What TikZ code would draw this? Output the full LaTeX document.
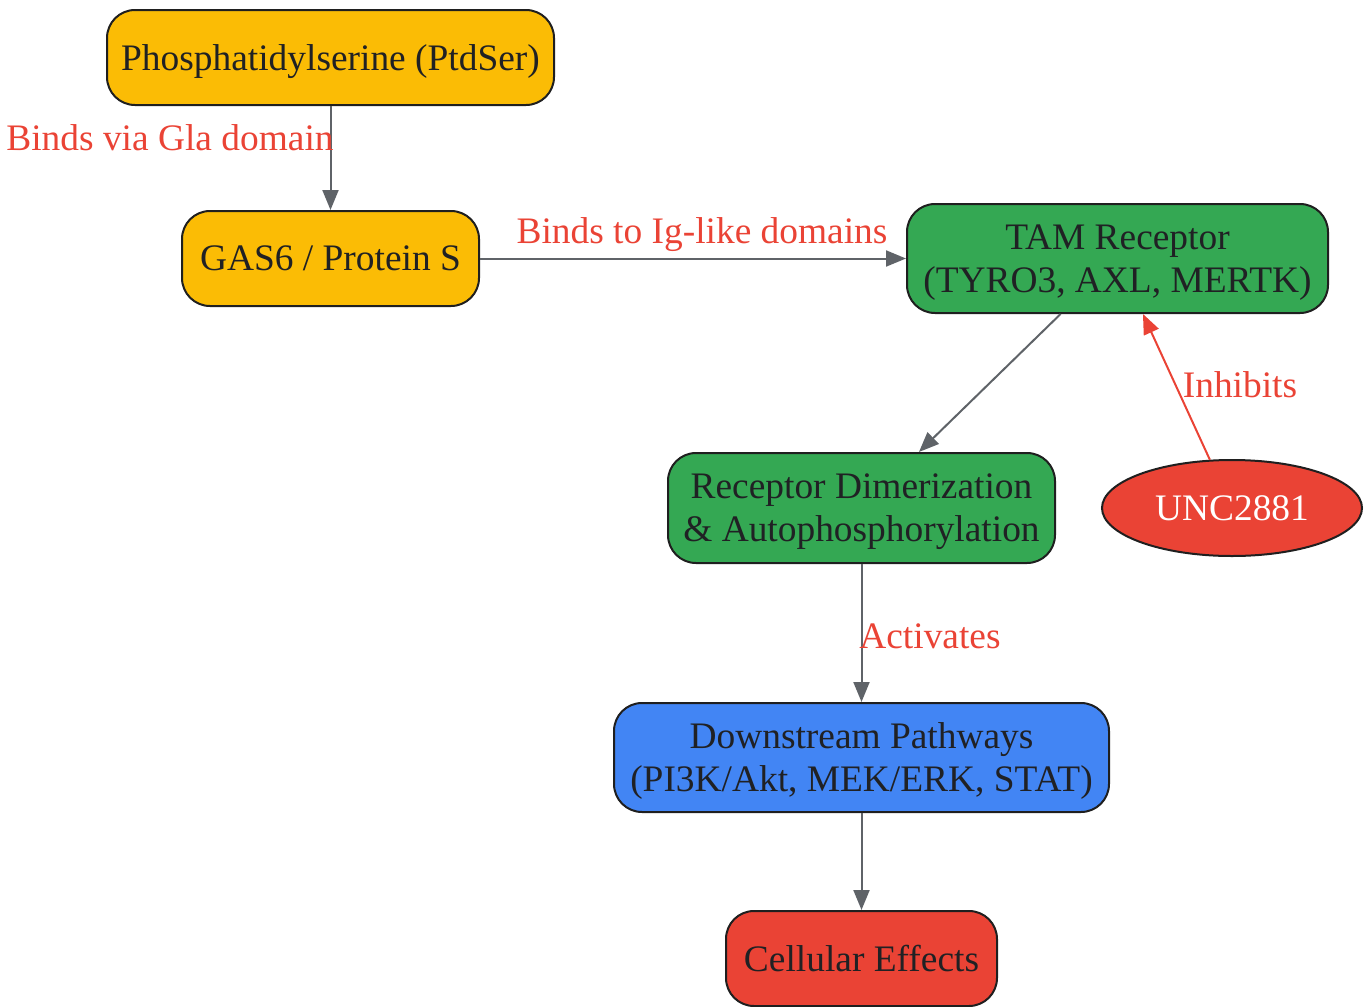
\documentclass[tikz,border=0pt]{standalone}
\usepackage{fontspec}
\setmainfont{Liberation Serif}
\usetikzlibrary{arrows.meta,shapes.geometric}
\definecolor{yel}{HTML}{FBBC05}
\definecolor{grn}{HTML}{34A853}
\definecolor{blu}{HTML}{4285F4}
\definecolor{rd}{HTML}{EA4335}
\definecolor{edge}{HTML}{5F6368}
\definecolor{txt}{HTML}{202124}
\definecolor{bd}{HTML}{1F1F1F}
\tikzset{
  box/.style={draw=bd, line width=1pt, rounded corners=14pt, align=center, text=txt,
    font=\fontsize{18.7}{21.5}\selectfont, inner sep=0pt, text depth=0pt},
  oval/.style={draw=bd, line width=1pt, ellipse, align=center, text=white,
    font=\fontsize{18.7}{21.5}\selectfont, inner sep=0pt},
  conn/.style={draw=edge, line width=1pt, -{Triangle[length=10pt,width=8pt]}},
  lbl/.style={text=rd, font=\fontsize{18.7}{21.5}\selectfont, inner sep=0pt}
}
\begin{document}
\begin{tikzpicture}[x=0.5pt,y=-0.5pt]
\useasboundingbox (0,0) rectangle (1367,1007);
\node[box, fill=yel, minimum width=223.5pt, minimum height=47.5pt] (ptd) at (330.5,57.5) {Phosphatidylserine (PtdSer)};
\node[box, fill=yel, minimum width=148.5pt, minimum height=47.5pt] (gas) at (330.5,258.5) {GAS6 / Protein S};
\node[box, fill=grn, minimum width=210.5pt, minimum height=54.5pt] (tam) at (1117.5,258.5) {TAM Receptor\\(TYRO3, AXL, MERTK)};
\node[box, fill=grn, minimum width=193.5pt, minimum height=55pt] (dim) at (861.5,508) {Receptor Dimerization\\\& Autophosphorylation};
\node[oval, fill=rd, minimum width=130pt, minimum height=48pt] (unc) at (1232,508) {UNC2881};
\node[box, fill=blu, minimum width=247.5pt, minimum height=54.5pt] (down) at (861.5,757.5) {Downstream Pathways\\(PI3K/Akt, MEK/ERK, STAT)};
\node[box, fill=rd, minimum width=135.5pt, minimum height=47.5pt] (cell) at (861.5,958.5) {Cellular Effects};

\draw[conn] (ptd) -- (gas);
\draw[conn] (gas) -- (tam);
\draw[conn] (tam) -- (dim);
\draw[conn, draw=rd, -{Triangle[length=10pt,width=8pt,fill=rd]}] (unc) -- (tam);
\draw[conn] (dim) -- (down);
\draw[conn] (down) -- (cell);

\node[lbl] (l1) at (170,138) {Binds via Gla domain};
\node[lbl] (l2) at (702,235) {Binds to Ig-like domains};
\node[lbl] (l3) at (1240,385) {Inhibits};
\node[lbl] (l4) at (930,636) {Activates};
\end{tikzpicture}
\end{document}
